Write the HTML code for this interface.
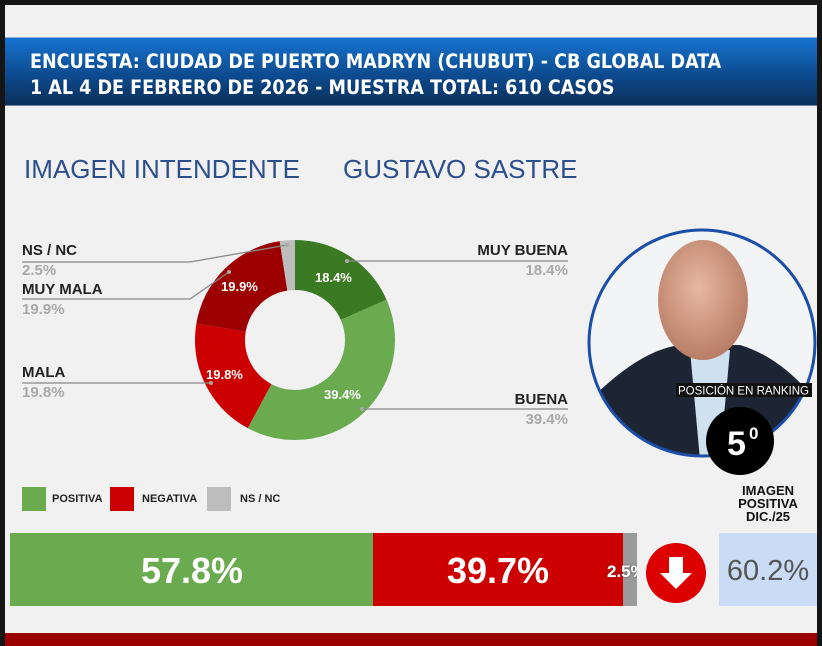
<!DOCTYPE html>
<html><head><meta charset="utf-8"><style>
body{margin:0;width:822px;height:646px;overflow:hidden;background:#151515;font-family:"Liberation Sans",sans-serif;position:relative}
.page{position:absolute;left:5px;top:5px;width:812px;height:641px;background:#f1f1f2}
.abs{position:absolute}
.hdr{left:5px;top:37px;width:812px;height:67px;background:linear-gradient(#1673cf,#0d4b8f 55%,#0b2f5a);border-top:1px solid #8fb0d8;border-bottom:1px solid #6b86a8}
.hdr div{position:absolute;left:25px;color:#fff;font-weight:bold;font-size:19.5px;letter-spacing:0;font-family:"DejaVu Sans Condensed","Liberation Sans Narrow","Liberation Sans",sans-serif}
.t{color:#2c4f8c;font-size:26px}
.lb{font-weight:bold;font-size:15px;color:#222}
.lv{font-weight:bold;font-size:15px;color:#a8a8a8}
.lg{font-weight:bold;font-size:11px;color:#222}
</style></head><body>
<div class="page"></div>
<div class="abs hdr"><div style="top:12px">ENCUESTA: CIUDAD DE PUERTO MADRYN (CHUBUT) - CB GLOBAL DATA</div><div style="top:38px">1 AL 4 DE FEBRERO DE 2026 - MUESTRA TOTAL: 610 CASOS</div></div>
<div class="abs t" style="left:24px;top:154px">IMAGEN INTENDENTE</div>
<div class="abs t" style="left:343px;top:154px">GUSTAVO SASTRE</div>

<svg class="abs" style="left:0;top:0" width="822" height="646">
<g transform="rotate(-90 295 340)" fill="none" stroke-width="50">
<circle cx="295" cy="340" r="75" stroke="#3a7a22" stroke-dasharray="86.7 471.24"/>
<circle cx="295" cy="340" r="75" stroke="#6aab4f" stroke-dasharray="0 86.7 185.7 471.24"/>
<circle cx="295" cy="340" r="75" stroke="#cc0000" stroke-dasharray="0 272.4 93.3 471.24"/>
<circle cx="295" cy="340" r="75" stroke="#9c0000" stroke-dasharray="0 365.7 93.8 471.24"/>
<circle cx="295" cy="340" r="75" stroke="#bdbdbd" stroke-dasharray="0 459.5 11.8 471.24"/>
</g>
<g stroke="#888" stroke-width="1.3" fill="none">
<polyline points="22,262 190,262 287,245"/>
<polyline points="22,299 190,299 229,272"/>
<polyline points="22,383 211,383"/>
<polyline points="347,261 568,261"/>
<polyline points="362,409 568,409"/>
</g>
<g fill="#aaa"><circle cx="287" cy="245" r="2"/><circle cx="229" cy="272" r="2"/><circle cx="211" cy="383" r="2"/><circle cx="347" cy="261" r="2"/><circle cx="362" cy="409" r="2"/></g>
<g fill="#fff" font-weight="bold" font-size="13" font-family="Liberation Sans">
<text x="315" y="282">18.4%</text><text x="221" y="291">19.9%</text><text x="206" y="379">19.8%</text><text x="324" y="399">39.4%</text>
</g>
<defs><clipPath id="c"><circle cx="702" cy="343" r="112"/></clipPath>
<radialGradient id="sk" cx="0.45" cy="0.4" r="0.6"><stop offset="0" stop-color="#e8b7a0"/><stop offset="1" stop-color="#b87d66"/></radialGradient></defs>
<g clip-path="url(#c)">
<rect x="580" y="220" width="250" height="250" fill="#f3f4f6"/>
<path d="M590 400 Q640 350 680 345 L740 345 Q790 360 830 420 L830 470 L580 470Z" fill="#1d2535"/>
<path d="M690 350 L730 350 L720 460 L700 460Z" fill="#cfe0ee"/>
<ellipse cx="703" cy="300" rx="45" ry="60" fill="url(#sk)"/>
</g>
<circle cx="702" cy="343" r="113" fill="none" stroke="#1a4ea8" stroke-width="3"/>
<rect x="676" y="383" width="136" height="14" fill="#111"/>
<text x="678" y="394.5" fill="#fff" font-size="11.5" font-family="Liberation Sans">POSICIÓN EN RANKING</text>
<circle cx="740" cy="441" r="34" fill="#000"/>
<text x="727" y="455" fill="#fff" font-size="34" font-weight="bold" font-family="Liberation Sans">5</text>
<text x="749" y="439" fill="#fff" font-size="17" font-weight="bold" font-family="Liberation Sans">0</text>
<rect x="22" y="487" width="24" height="24" fill="#6aab4f"/>
<rect x="110" y="487" width="24" height="24" fill="#cc0000"/>
<rect x="207" y="487" width="24" height="24" fill="#bdbdbd"/>
<rect x="10" y="533" width="364" height="73" fill="#6aab4f"/>
<rect x="373" y="533" width="250" height="73" fill="#cc0000"/>
<rect x="623" y="533" width="14" height="73" fill="#9a9a9a"/>
<circle cx="676" cy="573" r="30" fill="#dd0000"/>
<path d="M669 557 h14 v16 h9 l-16 16 l-16 -16 h9z" fill="#fff"/>
<rect x="719" y="533" width="98" height="73" fill="#c9dbf5"/>
<rect x="5" y="633" width="812" height="13" fill="#9a0000"/>
</svg>
<div class="abs lb" style="left:22px;top:242px">NS / NC</div><div class="abs lv" style="left:22px;top:262px">2.5%</div>
<div class="abs lb" style="left:22px;top:281px">MUY MALA</div><div class="abs lv" style="left:22px;top:301px">19.9%</div>
<div class="abs lb" style="left:22px;top:364px">MALA</div><div class="abs lv" style="left:22px;top:384px">19.8%</div>
<div class="abs lb" style="right:254px;top:242px">MUY BUENA</div><div class="abs lv" style="right:254px;top:262px">18.4%</div>
<div class="abs lb" style="right:254px;top:391px">BUENA</div><div class="abs lv" style="right:254px;top:411px">39.4%</div>
<div class="abs lg" style="left:52px;top:493px">POSITIVA</div>
<div class="abs lg" style="left:142px;top:493px">NEGATIVA</div>
<div class="abs lg" style="left:240px;top:493px">NS / NC</div>
<div class="abs" style="left:10px;top:550px;width:364px;text-align:center;color:#fff;font-size:36px;font-weight:bold">57.8%</div>
<div class="abs" style="left:373px;top:550px;width:250px;text-align:center;color:#fff;font-size:36px;font-weight:bold">39.7%</div>
<div class="abs" style="left:607px;top:562px;width:30px;overflow:hidden;color:#fff;font-size:17px;font-weight:bold;text-shadow:0 0 2px #555">2.5%</div>
<div class="abs" style="left:719px;top:555px;width:98px;text-align:center;color:#555;font-size:29px">60.2%</div>
<div class="abs" style="left:719px;top:484px;width:98px;text-align:center;color:#111;font-size:13px;font-weight:bold;line-height:13px">IMAGEN<br>POSITIVA<br>DIC./25</div>
</body></html>
